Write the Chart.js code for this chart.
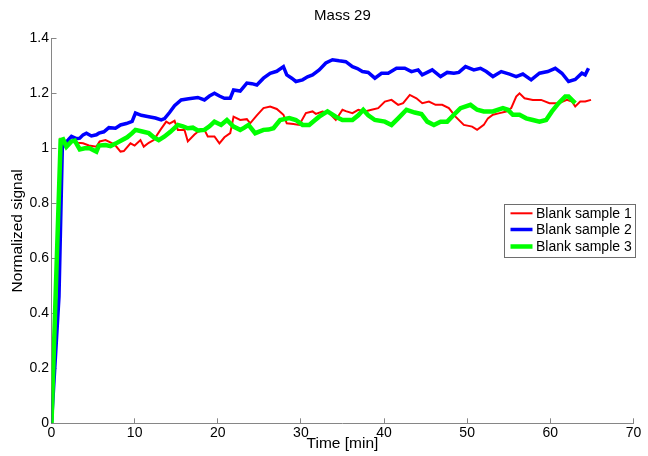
<!DOCTYPE html>
<html>
<head>
<meta charset="utf-8">
<script src="https://cdn.jsdelivr.net/npm/chart.js@4.4.1/dist/chart.umd.min.js"></script>
<style>
html,body{margin:0;padding:0;background:#fff;}
#wrap{width:648px;height:456px;}
</style>
</head>
<body>
<div id="wrap"><canvas id="c" width="648" height="456"></canvas></div>
<script>
const chartTitle = "Mass 29";
const xTitle = "Time [min]";
const yTitle = "Normalized signal";
const seriesNames = ["Blank sample 1", "Blank sample 2", "Blank sample 3"];

const redT = [0,1.1,1.5,2.0,2.6,3.2,3.8,4.5,5.4,5.8,6.5,7.2,7.7,8.3,8.7,9.5,10.0,10.7,11.1,11.7,12.3,13.1,13.8,14.2,14.8,15.2,16.0,16.4,17.2,17.6,18.4,18.8,19.6,20.2,20.8,21.5,21.9,22.7,23.5,23.9,24.7,25.5,26.3,27.1,27.9,28.3,29.1,29.8,30.6,31.4,31.8,32.6,33.4,34.2,35.0,35.4,36.2,36.9,37.7,38.5,39.3,40.1,40.9,41.7,42.3,43.1,43.9,44.6,45.4,46.2,47.0,47.8,48.6,49.6,50.6,51.2,52.0,52.5,53.1,53.9,54.7,55.3,55.9,56.3,56.9,57.9,58.9,59.9,61.0,62.0,62.6,63.0,63.6,64.2,64.9];
const redV = [0,1.03,1.015,1.02,1.025,1.02,1.018,1.01,1.006,1.025,1.03,1.02,1.01,0.988,0.99,1.018,1.01,1.03,1.006,1.02,1.03,1.067,1.097,1.09,1.1,1.067,1.067,1.025,1.05,1.06,1.067,1.043,1.043,1.018,1.04,1.055,1.115,1.103,1.106,1.091,1.12,1.146,1.152,1.143,1.122,1.091,1.088,1.085,1.128,1.134,1.125,1.134,1.128,1.103,1.14,1.135,1.128,1.14,1.134,1.14,1.146,1.17,1.176,1.158,1.164,1.194,1.182,1.164,1.17,1.158,1.158,1.146,1.115,1.085,1.079,1.067,1.085,1.109,1.122,1.128,1.134,1.146,1.188,1.2,1.182,1.176,1.176,1.164,1.164,1.176,1.17,1.152,1.17,1.17,1.176];

const blueT = [0,0.9,1.3,1.6,2.0,2.4,3.0,3.4,3.8,4.2,4.8,5.4,5.7,6.3,6.9,7.7,8.3,9.0,9.7,10.1,10.8,11.7,12.5,13.2,13.6,14.2,14.8,15.6,16.5,17.6,18.4,19.0,19.6,20.2,20.8,21.5,21.9,22.7,23.5,24.1,24.7,25.5,26.3,27.1,27.9,28.3,28.9,29.4,30.2,30.8,31.4,32.2,33.0,33.8,34.6,35.4,36.2,36.8,37.4,38.1,38.9,39.7,40.5,41.0,41.5,42.5,43.3,44.1,44.6,45.2,45.8,46.8,47.6,48.4,49.0,49.8,50.8,51.6,52.3,53.1,54.1,55.1,55.9,56.7,57.7,58.7,59.7,60.6,61.4,62.2,63.0,63.8,64.2,64.6];
const blueV = [0,0.46,1.0,1.02,1.03,1.043,1.035,1.037,1.049,1.055,1.045,1.049,1.055,1.06,1.075,1.073,1.085,1.09,1.098,1.128,1.12,1.115,1.11,1.103,1.108,1.13,1.155,1.176,1.18,1.185,1.176,1.19,1.2,1.19,1.182,1.182,1.212,1.208,1.237,1.235,1.23,1.255,1.273,1.28,1.297,1.267,1.255,1.243,1.249,1.26,1.267,1.285,1.31,1.322,1.318,1.315,1.297,1.29,1.279,1.276,1.255,1.273,1.273,1.282,1.291,1.291,1.279,1.285,1.267,1.276,1.285,1.261,1.276,1.273,1.276,1.297,1.285,1.291,1.279,1.261,1.279,1.27,1.261,1.27,1.249,1.273,1.279,1.291,1.273,1.243,1.25,1.273,1.267,1.291];

const greenT = [0,1.1,1.4,1.8,2.4,2.8,3.4,4.0,4.6,5.0,5.4,5.7,6.5,7.1,7.7,8.5,9.1,9.7,10.1,10.8,11.7,12.3,12.9,13.6,14.3,15.2,15.8,16.4,17.0,17.6,18.4,19.0,19.6,20.4,21.1,21.9,22.7,23.2,23.7,24.5,25.5,26.1,26.7,27.5,28.6,29.4,30.2,31.0,31.6,32.2,33.2,34.2,35.0,35.6,36.2,36.9,37.5,38.1,38.9,40.1,40.9,41.7,42.7,43.7,44.5,45.2,46.0,46.8,47.6,48.4,49.2,50.4,51.2,52.0,53.1,54.3,54.9,55.5,56.3,57.1,57.9,58.7,59.5,60.2,61.0,61.8,62.2,62.6,63.0];
const greenV = [0,1.03,1.033,1.006,1.025,1.028,0.996,1.0,1.0,0.994,0.988,1.01,1.012,1.008,1.017,1.03,1.04,1.055,1.067,1.062,1.055,1.04,1.03,1.043,1.06,1.085,1.08,1.073,1.075,1.065,1.067,1.08,1.097,1.085,1.103,1.079,1.067,1.075,1.085,1.055,1.067,1.068,1.073,1.103,1.11,1.103,1.085,1.085,1.1,1.115,1.134,1.115,1.103,1.103,1.103,1.12,1.14,1.12,1.103,1.097,1.085,1.109,1.14,1.13,1.125,1.097,1.085,1.097,1.097,1.122,1.146,1.158,1.14,1.134,1.134,1.146,1.14,1.122,1.122,1.109,1.103,1.097,1.103,1.134,1.164,1.188,1.188,1.176,1.164];

const xTicksMin = 0, xTicksMax = 70, xStep = 10;
const yTicksMin = 0, yTicksMax = 1.4, yStep = 0.2;

function pts(t, v){ return t.map((x,i)=>({x:x, y:v[i]})); }

const FONT = "'Liberation Sans', Arial, Helvetica, sans-serif";
const AXIS = '#868686';

const titlePlugin = {
  id: 'matTitle',
  afterDraw(chart){
    const ctx = chart.ctx, a = chart.chartArea;
    ctx.save();
    ctx.font = '15px ' + FONT;
    ctx.fillStyle = '#000';
    ctx.textAlign = 'center';
    ctx.textBaseline = 'alphabetic';
    ctx.fillText(chartTitle, (a.left + a.right)/2, 20);
    ctx.restore();
  }
};

const legendPlugin = {
  id: 'matLegend',
  afterDraw(chart){
    const ctx = chart.ctx;
    const bx = 504.5, by = 204.5, bw = 131, bh = 53;
    ctx.save();
    ctx.fillStyle = '#fff';
    ctx.fillRect(bx, by, bw, bh);
    ctx.strokeStyle = '#6e6e6e';
    ctx.lineWidth = 1;
    ctx.strokeRect(bx, by, bw, bh);
    const rows = [213.3, 229.5, 246.5];
    ctx.font = '14px ' + FONT;
    ctx.textAlign = 'left';
    ctx.textBaseline = 'middle';
    chart.data.datasets.forEach((ds, i) => {
      const y = rows[i];
      ctx.strokeStyle = ds.borderColor;
      ctx.lineWidth = ds.borderWidth;
      ctx.beginPath();
      ctx.moveTo(510.5, y);
      ctx.lineTo(532.5, y);
      ctx.stroke();
      ctx.fillStyle = '#000';
      ctx.fillText(ds.label, 536, y + 0.5);
    });
    ctx.restore();
  }
};

new Chart(document.getElementById('c'), {
  type: 'line',
  data: {
    datasets: [
      {label: seriesNames[0], data: pts(redT, redV), borderColor: '#ff0000', borderWidth: 2, pointRadius: 0, tension: 0, order: 2},
      {label: seriesNames[1], data: pts(blueT, blueV), borderColor: '#0000ff', borderWidth: 3.5, pointRadius: 0, tension: 0, order: 1},
      {label: seriesNames[2], data: pts(greenT, greenV), borderColor: '#00ff00', borderWidth: 4.5, pointRadius: 0, tension: 0, order: 0}
    ]
  },
  options: {
    responsive: false,
    animation: false,
    devicePixelRatio: 1,
    layout: {padding: {top: 38.3, right: 6, left: 0, bottom: 0}},
    plugins: {legend: {display: false}, tooltip: {enabled: false}, title: {display: false}},
    scales: {
      x: {
        type: 'linear', min: xTicksMin, max: xTicksMax,
        ticks: {stepSize: xStep, color: '#000', font: {family: FONT, size: 14}, padding: 6.8, maxRotation: 0},
        grid: {drawOnChartArea: false, tickLength: -5, color: AXIS, tickColor: AXIS},
        border: {color: AXIS, width: 1},
        title: {display: true, text: xTitle, color: '#000', font: {family: FONT, size: 15.5}, padding: {top: 0, bottom: 2.5}},
        afterFit(s){ s.height = 32.7; }
      },
      y: {
        type: 'linear', min: yTicksMin, max: yTicksMax,
        ticks: {stepSize: yStep, color: '#000', font: {family: FONT, size: 14}, padding: 7.5,
          callback: (v) => String(Number(v.toFixed(1)))},
        grid: {drawOnChartArea: false, tickLength: -5, color: AXIS, tickColor: AXIS},
        border: {color: AXIS, width: 1},
        title: {display: true, text: yTitle, color: '#000', font: {family: FONT, size: 15.5}, padding: {top: 8.2, bottom: 0}},
        afterFit(s){ s.width = 51.5; }
      }
    }
  },
  plugins: [titlePlugin, legendPlugin]
});
</script>
</body>
</html>
